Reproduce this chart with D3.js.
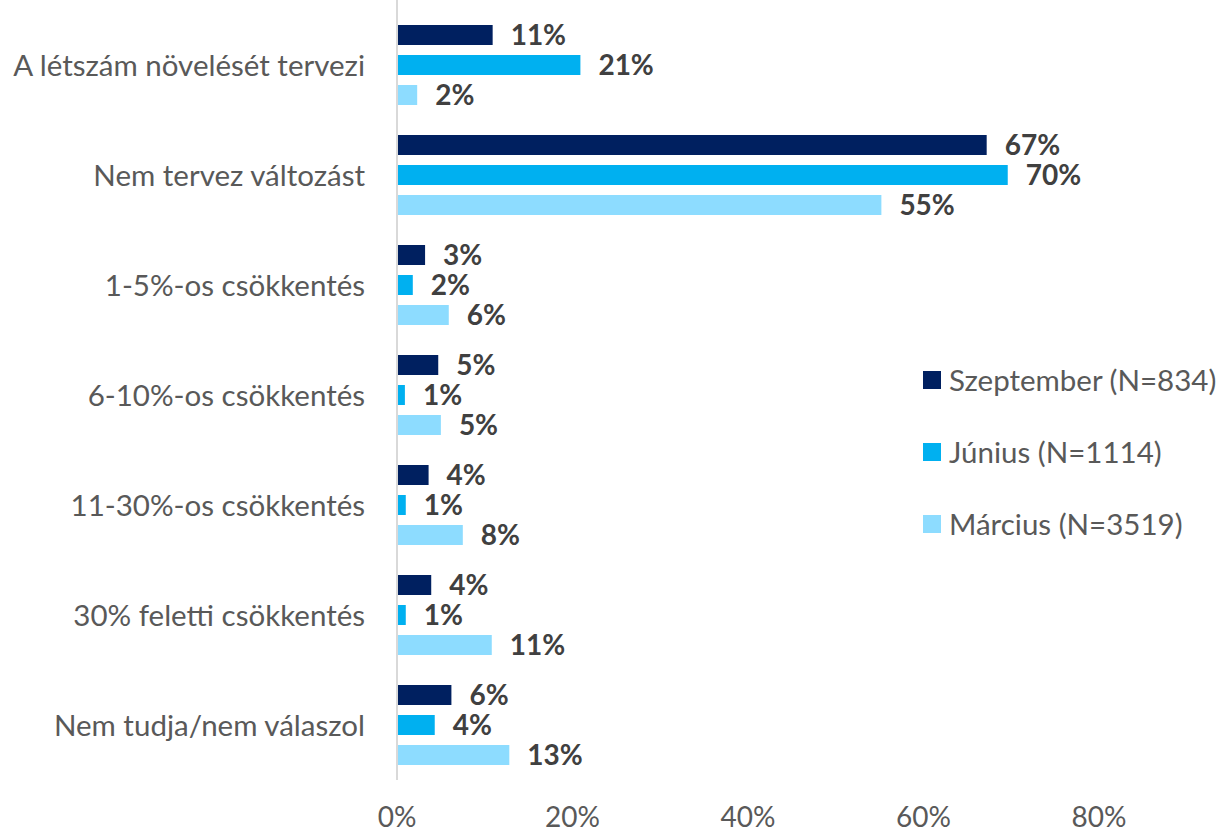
<!DOCTYPE html>
<html lang="hu">
<head>
    <meta charset="UTF-8">
    <script src="https://d3js.org/d3.v7.min.js"></script>
    <style>
        body { margin: 0; background: #fff; }
        text { font-family: Lato, "Open Sans", sans-serif; }
    </style>
</head>
<body>
<script>
    // Data
    var categories = [
        "A létszám növelését tervezi",
        "Nem tervez változást",
        "1-5%-os csökkentés",
        "6-10%-os csökkentés",
        "11-30%-os csökkentés",
        "30% feletti csökkentés",
        "Nem tudja/nem válaszol"
    ];
    var seriesNames = ["Szeptember (N=834)", "Június (N=1114)", "Március (N=3519)"];
    var szeptember = [10.9, 67.2, 3.2, 4.7, 3.6, 3.9, 6.2];
    var junius     = [20.9, 69.6, 1.8, 0.9, 1.0, 1.0, 4.3];
    var marcius    = [2.3, 55.2, 5.9, 5.0, 7.5, 10.8, 12.8];
    var xTicks = [0, 20, 40, 60, 80];
    var colors = ["#002060", "#00B0F0", "#8DDCFF"];

    var series = [szeptember, junius, marcius];

    var width = 1227, height = 834;
    var svg = d3.select("body").append("svg")
        .attr("width", width)
        .attr("height", height);

    // Scales
    var x = d3.scaleLinear().domain([0, 80]).range([397, 1099]);
    var y0 = d3.scaleBand().domain(categories).range([10, 780])
        .paddingInner(30 / 110).paddingOuter(15 / 110);
    var y1 = d3.scaleBand().domain([0, 1, 2]).range([0, y0.bandwidth()])
        .paddingInner(10 / 30);

    // Bars
    var groups = svg.selectAll("g.cat")
        .data(categories)
        .enter().append("g")
        .attr("class", "cat")
        .attr("transform", function (d) { return "translate(0," + y0(d) + ")"; });

    groups.each(function (cat, i) {
        var g = d3.select(this);
        series.forEach(function (s, j) {
            g.append("rect")
                .attr("x", x(0))
                .attr("y", y1(j))
                .attr("width", x(s[i]) - x(0))
                .attr("height", y1.bandwidth())
                .style("fill", colors[j]);
            g.append("text")
                .attr("x", x(s[i]) + 18)
                .attr("y", y1(j) + y1.bandwidth() / 2)
                .attr("dy", "0.36em")
                .style("font-size", "28px")
                .style("font-weight", "bold")
                .style("fill", "#404040")
                .text(Math.round(s[i]) + "%");
        });
        // category label
        g.append("text")
            .attr("x", 365)
            .attr("y", y1(1) + y1.bandwidth() / 2)
            .attr("dy", "0.36em")
            .attr("text-anchor", "end")
            .style("font-size", "29.5px")
            .style("fill", "#595959")
            .text(cat);
    });

    // Vertical axis line
    svg.append("line")
        .attr("x1", x(0)).attr("x2", x(0))
        .attr("y1", 0).attr("y2", 780)
        .style("stroke", "#d9d9d9")
        .style("stroke-width", 2);

    // X tick labels
    svg.selectAll("text.tick")
        .data(xTicks)
        .enter().append("text")
        .attr("class", "tick")
        .attr("x", function (d) { return x(d); })
        .attr("y", 817)
        .attr("dy", "0.36em")
        .attr("text-anchor", "middle")
        .style("font-size", "28px")
        .style("fill", "#595959")
        .text(function (d) { return d + "%"; });

    // Legend
    var legend = svg.selectAll("g.legend")
        .data(seriesNames)
        .enter().append("g")
        .attr("class", "legend")
        .attr("transform", function (d, i) { return "translate(923," + (380 + i * 72) + ")"; });

    legend.append("rect")
        .attr("x", 0).attr("y", -9)
        .attr("width", 18).attr("height", 18)
        .style("fill", function (d, i) { return colors[i]; });

    legend.append("text")
        .attr("x", 26)
        .attr("y", 0)
        .attr("dy", "0.36em")
        .style("font-size", "29.5px")
        .style("fill", "#595959")
        .text(function (d) { return d; });
</script>
</body>
</html>
